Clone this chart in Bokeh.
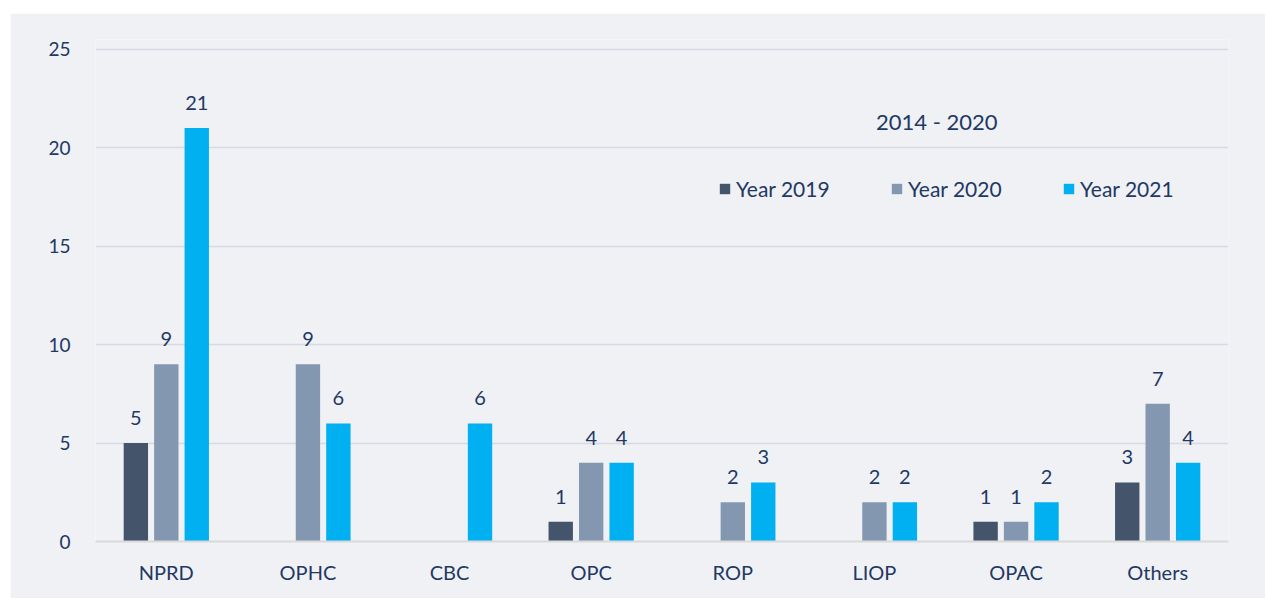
from bokeh.plotting import figure
from bokeh.models import (ColumnDataSource, FactorRange, Range1d, LabelSet, Label,
                          Legend, LegendItem, SingleIntervalTicker)
from bokeh.core.properties import value
from bokeh.transform import dodge
from bokeh.embed import file_html
from bokeh.resources import INLINE

categories = ["NPRD", "OPHC", "CBC", "OPC", "ROP", "LIOP", "OPAC", "Others"]
series = ["Year 2019", "Year 2020", "Year 2021"]
y2019 = [5, 0, 0, 1, 0, 0, 1, 3]
y2020 = [9, 9, 0, 4, 2, 2, 1, 7]
y2021 = [21, 6, 6, 4, 3, 2, 2, 4]
colors = ["#44546a", "#8497b0", "#00b0f0"]
subtitle = "2014 - 2020"

FONT = "Lato"
TXT = "#1f3864"
PANEL = "#eff1f5"

p = figure(x_range=FactorRange(*categories), y_range=Range1d(0, 25.5),
           width=1255, height=585, output_backend="svg", toolbar_location=None,
           min_border_left=85, min_border_right=37, min_border_top=26, min_border_bottom=57)
p.margin = (13, 0, 0, 10)
p.background_fill_color = PANEL
p.border_fill_color = PANEL
p.outline_line_color = None

ticker = SingleIntervalTicker(interval=5)
p.yaxis.ticker = ticker
p.ygrid.ticker = ticker
p.xgrid.grid_line_color = None
p.ygrid.grid_line_color = "#d5dbe5"
p.ygrid.grid_line_width = 1.5

p.yaxis.axis_line_color = None
p.yaxis.major_tick_line_color = None
p.yaxis.minor_tick_line_color = None
p.yaxis.major_label_standoff = 19
p.yaxis.major_label_text_font = FONT
p.yaxis.major_label_text_font_size = "19px"
p.yaxis.major_label_text_color = TXT

p.xaxis.axis_line_color = "#d9d9d9"
p.xaxis.axis_line_width = 2
p.xaxis.major_tick_line_color = None
p.xaxis.minor_tick_line_color = None
p.xaxis.major_label_standoff = 12
p.xaxis.major_label_text_font = FONT
p.xaxis.major_label_text_font_size = "20px"
p.xaxis.major_label_text_color = TXT

offsets = [-0.215, 0.0, 0.215]
items = []
for name, vals, col, off in zip(series, [y2019, y2020, y2021], colors, offsets):
    cats = [c for c, v in zip(categories, vals) if v > 0]
    vv = [v for v in vals if v > 0]
    src = ColumnDataSource(dict(cat=cats, val=vv, lbl=[str(v) for v in vv]))
    r = p.vbar(x=dodge("cat", off, range=p.x_range), top="val", width=0.172,
               source=src, fill_color=col, line_color=None)
    items.append(LegendItem(label=name, renderers=[r]))
    p.add_layout(LabelSet(x=dodge("cat", off, range=p.x_range), y="val", text="lbl",
                          source=src, text_align="center", text_baseline="middle",
                          y_offset=25, text_font=value(FONT), text_font_size=value("20px"),
                          text_color=value(TXT)))

p.add_layout(Label(x=5.94, y=21.33, text=subtitle, text_align="center",
                   text_baseline="middle", text_font=FONT, text_font_size="22px",
                   text_color=TXT))

legend = Legend(items=items, orientation="horizontal", location=(623, 340),
                glyph_width=13, glyph_height=13, label_standoff=5, label_width=140,
                spacing=14, padding=0, margin=0, border_line_color=None,
                background_fill_alpha=0, label_text_font=FONT,
                label_text_font_size="21px", label_text_color=TXT, label_height=20)
p.add_layout(legend)

open("out.html", "w").write(file_html(p, INLINE))
